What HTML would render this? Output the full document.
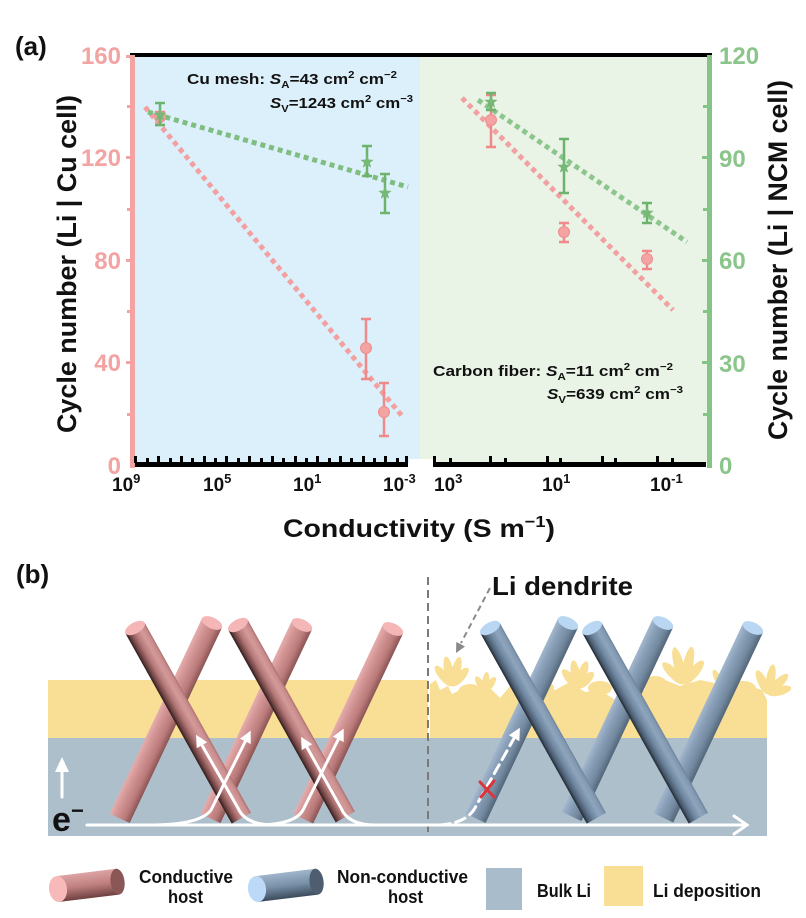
<!DOCTYPE html>
<html>
<head>
<meta charset="utf-8">
<style>
html,body{margin:0;padding:0;background:#fff;}
svg{display:block;}
</style>
</head>
<body>
<svg width="806" height="918" viewBox="0 0 806 918" xmlns="http://www.w3.org/2000/svg" font-family="'Liberation Sans', Arial, sans-serif">
<defs>
  <linearGradient id="gPD" gradientUnits="userSpaceOnUse" x1="-11" y1="0" x2="11" y2="0">
    <stop offset="0" stop-color="#2e1b1b"/>
    <stop offset="0.14" stop-color="#6e4343"/>
    <stop offset="0.38" stop-color="#b27676"/>
    <stop offset="0.68" stop-color="#d49a9a"/>
    <stop offset="0.9" stop-color="#c98c8c"/>
    <stop offset="1" stop-color="#a86f6f"/>
  </linearGradient>
  <linearGradient id="gPS" gradientUnits="userSpaceOnUse" x1="-11" y1="0" x2="11" y2="0">
    <stop offset="0" stop-color="#e6adad"/>
    <stop offset="0.3" stop-color="#d29494"/>
    <stop offset="0.7" stop-color="#bb7b7b"/>
    <stop offset="1" stop-color="#8a5454"/>
  </linearGradient>
  <linearGradient id="gBD" gradientUnits="userSpaceOnUse" x1="-11" y1="0" x2="11" y2="0">
    <stop offset="0" stop-color="#1f2833"/>
    <stop offset="0.14" stop-color="#4a5b6e"/>
    <stop offset="0.38" stop-color="#6f86a0"/>
    <stop offset="0.68" stop-color="#8ea5bd"/>
    <stop offset="0.9" stop-color="#8299b2"/>
    <stop offset="1" stop-color="#6d8299"/>
  </linearGradient>
  <linearGradient id="gBS" gradientUnits="userSpaceOnUse" x1="-11" y1="0" x2="11" y2="0">
    <stop offset="0" stop-color="#a3b8cd"/>
    <stop offset="0.3" stop-color="#8aa0b9"/>
    <stop offset="0.7" stop-color="#73899f"/>
    <stop offset="1" stop-color="#53667a"/>
  </linearGradient>
  <linearGradient id="gLegP" gradientUnits="userSpaceOnUse" x1="0" y1="-13" x2="0" y2="13">
    <stop offset="0" stop-color="#dca4a4"/>
    <stop offset="0.5" stop-color="#c07f7f"/>
    <stop offset="1" stop-color="#6e4040"/>
  </linearGradient>
  <linearGradient id="gLegB" gradientUnits="userSpaceOnUse" x1="0" y1="-13" x2="0" y2="13">
    <stop offset="0" stop-color="#a0b5ca"/>
    <stop offset="0.5" stop-color="#7890a8"/>
    <stop offset="1" stop-color="#3c4b5c"/>
  </linearGradient>
  <marker id="ah" viewBox="0 0 10 10" refX="5" refY="5" markerWidth="4" markerHeight="4" orient="auto">
    <path d="M0,0 L10,5 L0,10 z" fill="#fff"/>
  </marker>
  <path id="star" d="M0,-7 L1.76,-2.43 L6.66,-2.16 L2.85,0.93 L4.11,5.66 L0,3 L-4.11,5.66 L-2.85,0.93 L-6.66,-2.16 L-1.76,-2.43 Z"/>
</defs>

<!-- ================= PANEL (a) ================= -->
<text x="15" y="55" font-size="26" font-weight="bold" fill="#111">(a)</text>

<rect x="134" y="57" width="286" height="406" fill="#dcf0fb"/>
<rect x="420" y="57" width="288" height="406" fill="#e9f3e6"/>
<rect x="409" y="459" width="24" height="12" fill="#fff"/>

<rect x="130" y="53" width="582" height="4" fill="#000"/>

<rect x="130" y="55" width="5" height="413" fill="#f4a3a3"/>
<g fill="#f4a3a3">
  <rect x="126" y="55" width="5" height="3"/>
  <rect x="126" y="156" width="5" height="3"/>
  <rect x="126" y="259" width="5" height="3"/>
  <rect x="126" y="361" width="5" height="3"/>
  <rect x="127" y="105" width="4" height="3"/>
  <rect x="127" y="208" width="4" height="3"/>
  <rect x="127" y="310" width="4" height="3"/>
  <rect x="127" y="413" width="4" height="3"/>
</g>
<rect x="707" y="55" width="5" height="413" fill="#86c386"/>
<g fill="#86c386">
  <rect x="702" y="156" width="6" height="3"/>
  <rect x="702" y="259" width="6" height="3"/>
  <rect x="702" y="361" width="6" height="3"/>
  <rect x="703" y="105" width="5" height="3"/>
  <rect x="703" y="208" width="5" height="3"/>
  <rect x="703" y="310" width="5" height="3"/>
  <rect x="703" y="413" width="5" height="3"/>
</g>

<rect x="135" y="462" width="273" height="5" fill="#000"/>
<rect x="433" y="462" width="273" height="5" fill="#000"/>
<g fill="#000">
  <rect x="134" y="456" width="3" height="7"/>
  <rect x="146" y="458" width="3" height="5"/>
  <rect x="157" y="456" width="3" height="7"/>
  <rect x="169" y="458" width="3" height="5"/>
  <rect x="180" y="456" width="3" height="7"/>
  <rect x="191" y="458" width="3" height="5"/>
  <rect x="203" y="456" width="3" height="7"/>
  <rect x="214" y="458" width="3" height="5"/>
  <rect x="225" y="456" width="3" height="7"/>
  <rect x="237" y="458" width="3" height="5"/>
  <rect x="248" y="456" width="3" height="7"/>
  <rect x="260" y="458" width="3" height="5"/>
  <rect x="271" y="456" width="3" height="7"/>
  <rect x="282" y="458" width="3" height="5"/>
  <rect x="294" y="456" width="3" height="7"/>
  <rect x="305" y="458" width="3" height="5"/>
  <rect x="316" y="456" width="3" height="7"/>
  <rect x="328" y="458" width="3" height="5"/>
  <rect x="339" y="456" width="3" height="7"/>
  <rect x="350" y="458" width="3" height="5"/>
  <rect x="362" y="456" width="3" height="7"/>
  <rect x="373" y="458" width="3" height="5"/>
  <rect x="384" y="456" width="3" height="7"/>
  <rect x="396" y="458" width="3" height="5"/>
  <rect x="405" y="456" width="3" height="7"/>
  <rect x="433" y="456" width="3" height="7"/>
  <rect x="449" y="458" width="3" height="5"/>
  <rect x="489" y="456" width="3" height="7"/>
  <rect x="504" y="458" width="3" height="5"/>
  <rect x="546" y="456" width="3" height="7"/>
  <rect x="559" y="458" width="3" height="5"/>
  <rect x="601" y="456" width="3" height="7"/>
  <rect x="614" y="458" width="3" height="5"/>
  <rect x="656" y="456" width="3" height="7"/>
  <rect x="671" y="458" width="3" height="5"/>
</g>

<g font-size="24" font-weight="bold" fill="#f4a3a3" text-anchor="end">
  <text x="121" y="64">160</text>
  <text x="121" y="166">120</text>
  <text x="121" y="269">80</text>
  <text x="121" y="371">40</text>
  <text x="121" y="474">0</text>
</g>
<g font-size="24" font-weight="bold" fill="#8ac58a">
  <text x="719" y="64">120</text>
  <text x="719" y="167">90</text>
  <text x="719" y="269">60</text>
  <text x="719" y="372">30</text>
  <text x="719" y="474">0</text>
</g>

<g font-size="19" font-weight="bold" fill="#111">
  <text x="112" y="491">10<tspan font-size="13" dy="-8">9</tspan></text>
  <text x="203" y="491">10<tspan font-size="13" dy="-8">5</tspan></text>
  <text x="293" y="491">10<tspan font-size="13" dy="-8">1</tspan></text>
  <text x="383" y="491">10<tspan font-size="13" dy="-8">-3</tspan></text>
  <text x="434" y="491">10<tspan font-size="13" dy="-8">3</tspan></text>
  <text x="542" y="491">10<tspan font-size="13" dy="-8">1</tspan></text>
  <text x="650" y="491">10<tspan font-size="13" dy="-8">-1</tspan></text>
</g>

<text x="283" y="537" font-size="25" font-weight="bold" fill="#111" textLength="272" lengthAdjust="spacingAndGlyphs">Conductivity (S m<tspan font-size="16" dy="-10">−1</tspan><tspan dy="10">)</tspan></text>
<text transform="translate(76,264) rotate(-90)" text-anchor="middle" font-size="27" font-weight="bold" fill="#111" textLength="338" lengthAdjust="spacingAndGlyphs">Cycle number (Li | Cu cell)</text>
<text transform="translate(787,260) rotate(-90)" text-anchor="middle" font-size="27" font-weight="bold" fill="#111" textLength="360" lengthAdjust="spacingAndGlyphs">Cycle number (Li | NCM cell)</text>

<g font-weight="bold" fill="#111">
  <text x="187" y="84" font-size="15" textLength="210" lengthAdjust="spacingAndGlyphs">Cu mesh: <tspan font-style="italic">S</tspan><tspan font-size="10" dy="4">A</tspan><tspan dy="-4">=43 cm</tspan><tspan font-size="10" dy="-6">2</tspan><tspan dy="6"> cm</tspan><tspan font-size="10" dy="-6">−2</tspan></text>
  <text x="270" y="108" font-size="15" textLength="143" lengthAdjust="spacingAndGlyphs"><tspan font-style="italic">S</tspan><tspan font-size="10" dy="4">V</tspan><tspan dy="-4">=1243 cm</tspan><tspan font-size="10" dy="-6">2</tspan><tspan dy="6"> cm</tspan><tspan font-size="10" dy="-6">−3</tspan></text>
  <text x="433" y="376" font-size="15" textLength="240" lengthAdjust="spacingAndGlyphs">Carbon fiber: <tspan font-style="italic">S</tspan><tspan font-size="10" dy="4">A</tspan><tspan dy="-4">=11 cm</tspan><tspan font-size="10" dy="-6">2</tspan><tspan dy="6"> cm</tspan><tspan font-size="10" dy="-6">−2</tspan></text>
  <text x="547" y="399" font-size="15" textLength="136" lengthAdjust="spacingAndGlyphs"><tspan font-style="italic">S</tspan><tspan font-size="10" dy="4">V</tspan><tspan dy="-4">=639 cm</tspan><tspan font-size="10" dy="-6">2</tspan><tspan dy="6"> cm</tspan><tspan font-size="10" dy="-6">−3</tspan></text>
</g>

<g stroke-width="5" stroke-dasharray="5 4" fill="none">
  <line x1="145" y1="107" x2="402" y2="416" stroke="#f2a0a0"/>
  <line x1="148" y1="112" x2="408" y2="187" stroke="#80bd80"/>
  <line x1="462" y1="98" x2="673" y2="310" stroke="#f2a0a0"/>
  <line x1="478" y1="100" x2="687" y2="242" stroke="#8cc68c"/>
</g>

<g stroke="#f08a8a" stroke-width="2.5" fill="none">
  <path d="M160,112 V125 M155,112 H165 M155,125 H165"/>
  <path d="M366,319 V379 M361,319 H371 M361,379 H371"/>
  <path d="M384,383 V436 M379,383 H389 M379,436 H389"/>
  <path d="M491,95 V147 M486,95 H496 M486,147 H496"/>
  <path d="M564,223 V242 M559,223 H569 M559,242 H569"/>
  <path d="M647,251 V269 M642,251 H652 M642,269 H652"/>
</g>
<g fill="#f4a3a3" stroke="#ee8e8e" stroke-width="1">
  <circle cx="160" cy="117" r="5.5"/>
  <circle cx="366" cy="348" r="5.5"/>
  <circle cx="384" cy="412" r="5.5"/>
  <circle cx="491" cy="120" r="5.5"/>
  <circle cx="564" cy="232" r="5.5"/>
  <circle cx="647" cy="259" r="5.5"/>
</g>
<g stroke="#6db36d" stroke-width="2.5" fill="none">
  <path d="M160,103 V125 M155,103 H165 M155,125 H165"/>
  <path d="M367,146 V176 M362,146 H372 M362,176 H372"/>
  <path d="M385,174 V213 M380,174 H390 M380,213 H390"/>
  <path d="M491,93 V110 M486,93 H496 M486,110 H496"/>
  <path d="M564,139 V193 M559,139 H569 M559,193 H569"/>
  <path d="M647,203 V223 M642,203 H652 M642,223 H652"/>
</g>
<g fill="#76b876">
  <use href="#star" x="160" y="115"/>
  <use href="#star" x="367" y="162"/>
  <use href="#star" x="385" y="193"/>
  <use href="#star" x="491" y="102"/>
  <use href="#star" x="564" y="167"/>
  <use href="#star" x="647" y="213"/>
</g>

<!-- ================= PANEL (b) ================= -->
<text x="16" y="583" font-size="26" font-weight="bold" fill="#111">(b)</text>

<rect x="48" y="680" width="380" height="58" fill="#f9df95"/>
<rect x="48" y="738" width="719" height="98" fill="#aebfcc"/>

<g fill="#f9df95">
  <path d="M430,738 L430,684 L436,680 L440,690 L448,686 L452,694 L460,690 L470,700 L480,690 L490,688 L500,698 L510,686 L520,690 L530,694 L545,684 L555,690 L570,682 L585,692 L600,690 L615,700 L625,690 L640,694 L650,684 L665,680 L680,686 L700,680 L720,684 L735,690 L750,686 L762,690 L767,700 L767,738 Z"/>
  <ellipse cx="470" cy="692" rx="12" ry="8"/>
  <ellipse cx="540" cy="688" rx="14" ry="8"/>
  <ellipse cx="600" cy="688" rx="12" ry="7"/>
  <ellipse cx="655" cy="684" rx="12" ry="8"/>
  <ellipse cx="742" cy="688" rx="14" ry="7"/>
  <g transform="translate(452,686)">
    <ellipse cx="0" cy="-13" rx="4.5" ry="13" transform="rotate(-40)"/>
    <ellipse cx="0" cy="-15" rx="4.5" ry="15" transform="rotate(-12)"/>
    <ellipse cx="0" cy="-15" rx="4.5" ry="15" transform="rotate(15)"/>
    <ellipse cx="0" cy="-12" rx="4.5" ry="12" transform="rotate(42)"/>
  </g>
  <g transform="translate(485,692)">
    <ellipse cx="0" cy="-9" rx="3.5" ry="9" transform="rotate(-30)"/>
    <ellipse cx="0" cy="-10" rx="3.5" ry="10" transform="rotate(5)"/>
    <ellipse cx="0" cy="-9" rx="3.5" ry="9" transform="rotate(35)"/>
  </g>
  <g transform="translate(518,690)">
    <ellipse cx="0" cy="-9" rx="3.5" ry="9" transform="rotate(-35)"/>
    <ellipse cx="0" cy="-11" rx="3.5" ry="11" transform="rotate(0)"/>
    <ellipse cx="0" cy="-9" rx="3.5" ry="9" transform="rotate(35)"/>
  </g>
  <g transform="translate(578,688)">
    <ellipse cx="0" cy="-12" rx="4.5" ry="12" transform="rotate(-40)"/>
    <ellipse cx="0" cy="-14" rx="4.5" ry="14" transform="rotate(-10)"/>
    <ellipse cx="0" cy="-14" rx="4.5" ry="14" transform="rotate(18)"/>
    <ellipse cx="0" cy="-11" rx="4.5" ry="11" transform="rotate(45)"/>
  </g>
  <g transform="translate(628,692)">
    <ellipse cx="0" cy="-9" rx="3.5" ry="9" transform="rotate(-30)"/>
    <ellipse cx="0" cy="-10" rx="3.5" ry="10" transform="rotate(10)"/>
  </g>
  <g transform="translate(684,684)">
    <ellipse cx="0" cy="-15" rx="5" ry="15" transform="rotate(-45)"/>
    <ellipse cx="0" cy="-19" rx="5" ry="19" transform="rotate(-15)"/>
    <ellipse cx="0" cy="-19" rx="5" ry="19" transform="rotate(12)"/>
    <ellipse cx="0" cy="-15" rx="5" ry="15" transform="rotate(40)"/>
  </g>
  <g transform="translate(722,688)">
    <ellipse cx="0" cy="-10" rx="3.5" ry="10" transform="rotate(-25)"/>
    <ellipse cx="0" cy="-11" rx="3.5" ry="11" transform="rotate(15)"/>
  </g>
  <g transform="translate(768,694)">
    <ellipse cx="0" cy="-13" rx="4.5" ry="13" transform="rotate(-25)"/>
    <ellipse cx="0" cy="-15" rx="4.5" ry="15" transform="rotate(10)"/>
    <ellipse cx="0" cy="-14" rx="4.5" ry="14" transform="rotate(45)"/>
    <ellipse cx="0" cy="-12" rx="4.5" ry="12" transform="rotate(75)"/>
  </g>
</g>

<line x1="428" y1="577" x2="428" y2="836" stroke="#7a7a7a" stroke-width="2" stroke-dasharray="8 5"/>

<g transform="translate(212,623) rotate(25.3)"><rect x="-11" y="0" width="22" height="216" fill="url(#gPS)"/><ellipse cx="0" cy="0" rx="11" ry="5.5" fill="#f4b6b6"/></g>
<g transform="translate(302,625) rotate(25.3)"><rect x="-11" y="0" width="22" height="214" fill="url(#gPS)"/><ellipse cx="0" cy="0" rx="11" ry="5.5" fill="#f4b6b6"/></g>
<g transform="translate(393,629) rotate(25.3)"><rect x="-11" y="0" width="22" height="210" fill="url(#gPS)"/><ellipse cx="0" cy="0" rx="11" ry="5.5" fill="#f4b6b6"/></g>
<g transform="translate(135,628) rotate(-29.2)"><rect x="-11" y="0" width="22" height="218" fill="url(#gPD)"/><ellipse cx="0" cy="0" rx="11" ry="5.5" fill="#f4b6b6"/></g>
<g transform="translate(238,625) rotate(-29.2)"><rect x="-11" y="0" width="22" height="220" fill="url(#gPD)"/><ellipse cx="0" cy="0" rx="11" ry="5.5" fill="#f4b6b6"/></g>

<g transform="translate(568,623) rotate(25.3)"><rect x="-11" y="0" width="22" height="216" fill="url(#gBS)"/><ellipse cx="0" cy="0" rx="11" ry="5.5" fill="#b9d6f2"/></g>
<g transform="translate(663,623) rotate(25.3)"><rect x="-11" y="0" width="22" height="214" fill="url(#gBS)"/><ellipse cx="0" cy="0" rx="11" ry="5.5" fill="#b9d6f2"/></g>
<g transform="translate(753,628) rotate(25.3)"><rect x="-11" y="0" width="22" height="210" fill="url(#gBS)"/><ellipse cx="0" cy="0" rx="11" ry="5.5" fill="#b9d6f2"/></g>
<g transform="translate(490,628) rotate(-29.2)"><rect x="-11" y="0" width="22" height="218" fill="url(#gBD)"/><ellipse cx="0" cy="0" rx="11" ry="5.5" fill="#b9d6f2"/></g>
<g transform="translate(592,628) rotate(-29.2)"><rect x="-11" y="0" width="22" height="218" fill="url(#gBD)"/><ellipse cx="0" cy="0" rx="11" ry="5.5" fill="#b9d6f2"/></g>

<g stroke="#fff" stroke-width="3" fill="none" stroke-linecap="round">
  <path d="M87,825 L745,825"/>
  <path d="M734,816 L747,825 L734,834"/>
  <line x1="62" y1="797" x2="62" y2="770"/>
  <path d="M150,825 Q200,825 211,810 L248,736" marker-end="url(#ah)"/>
  <path d="M275,825 Q245,825 238,808 L199,740" marker-end="url(#ah)"/>
  <path d="M255,825 Q295,825 303,810 L341,734" marker-end="url(#ah)"/>
  <path d="M375,825 Q348,825 341,808 L304,742" marker-end="url(#ah)"/>
  <path d="M440,825 Q468,823 476,806 L517,733" stroke-dasharray="10 6" marker-end="url(#ah)"/>
</g>
<polygon points="62,757 55,772 69,772" fill="#fff"/>

<g stroke="#d9363e" stroke-width="3" stroke-linecap="round">
  <line x1="480" y1="782" x2="494" y2="797"/>
  <line x1="494" y1="781" x2="481" y2="797"/>
</g>

<text x="52" y="831" font-size="34" font-weight="bold" fill="#111">e</text>
<text x="71" y="818" font-size="22" font-weight="bold" fill="#111">−</text>

<text x="492" y="595" font-size="26" font-weight="bold" fill="#111" textLength="141" lengthAdjust="spacingAndGlyphs">Li dendrite</text>
<line x1="490" y1="588" x2="461" y2="643" stroke="#8a8a8a" stroke-width="2" stroke-dasharray="6 4"/>
<polygon points="456,653 465,646.5 456.3,641.9" fill="#8a8a8a"/>

<g transform="translate(58,889) rotate(-7)">
  <rect x="0" y="-13" width="60" height="26" fill="url(#gLegP)"/>
  <ellipse cx="60" cy="0" rx="7" ry="13" fill="#8a5656"/>
  <ellipse cx="0" cy="0" rx="9" ry="13" fill="#f7b9b9"/>
</g>
<g transform="translate(257,889) rotate(-7)">
  <rect x="0" y="-13" width="60" height="26" fill="url(#gLegB)"/>
  <ellipse cx="60" cy="0" rx="7" ry="13" fill="#4e5e70"/>
  <ellipse cx="0" cy="0" rx="9" ry="13" fill="#bcdaf7"/>
</g>
<rect x="486" y="868" width="36" height="42" fill="#a9bccb"/>
<rect x="604" y="866" width="39" height="40" fill="#f9df95"/>
<g font-size="18" font-weight="bold" fill="#111">
  <text x="139" y="883" textLength="94" lengthAdjust="spacingAndGlyphs">Conductive</text>
  <text x="168" y="903" textLength="35" lengthAdjust="spacingAndGlyphs">host</text>
  <text x="337" y="883" textLength="131" lengthAdjust="spacingAndGlyphs">Non-conductive</text>
  <text x="388" y="903" textLength="35" lengthAdjust="spacingAndGlyphs">host</text>
  <text x="537" y="897" textLength="54" lengthAdjust="spacingAndGlyphs">Bulk Li</text>
  <text x="653" y="897" textLength="108" lengthAdjust="spacingAndGlyphs">Li deposition</text>
</g>
</svg>
</body>
</html>
